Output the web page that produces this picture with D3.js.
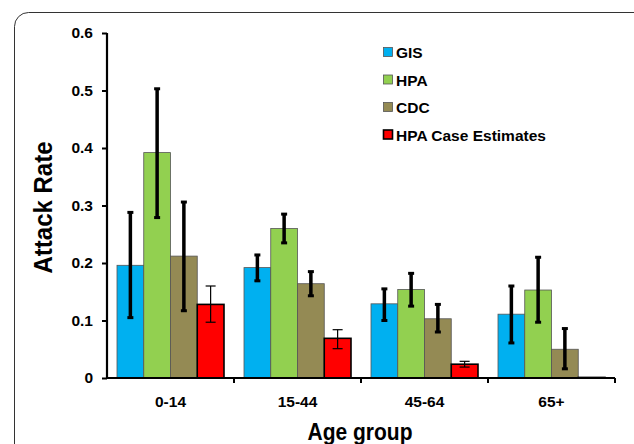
<!DOCTYPE html>
<html>
<head>
<meta charset="utf-8">
<script src="https://cdn.jsdelivr.net/npm/d3@7"></script>
<style>
  body { margin: 0; background: #fff; }
  text { font-family: "Liberation Sans", Arial, sans-serif; }
</style>
</head>
<body>
<div id="chart"></div>
<script>
// data
const ageGroups = ["0-14", "15-44", "45-64", "65+"];
const seriesNames = ["GIS", "HPA", "CDC", "HPA Case Estimates"];
const seriesColors = ["#00B0F0", "#92D050", "#948A54", "#FF0000"];
const gisValues = [0.196, 0.192, 0.129, 0.111];
const hpaValues = [0.392, 0.260, 0.154, 0.153];
const cdcValues = [0.212, 0.164, 0.103, 0.050];
const caseValues = [0.128, 0.069, 0.024, 0.001];
const gisLow = [0.105, 0.169, 0.100, 0.061];
const gisHigh = [0.288, 0.214, 0.155, 0.160];
const hpaLow = [0.279, 0.235, 0.125, 0.097];
const hpaHigh = [0.503, 0.285, 0.182, 0.210];
const cdcLow = [0.117, 0.143, 0.080, 0.016];
const cdcHigh = [0.306, 0.185, 0.128, 0.086];
const caseLow = [0.097, 0.051, 0.019, null];
const caseHigh = [0.160, 0.084, 0.029, null];
const yTicks = [0, 0.1, 0.2, 0.3, 0.4, 0.5, 0.6];

const values = [gisValues, hpaValues, cdcValues, caseValues];
const lows = [gisLow, hpaLow, cdcLow, caseLow];
const highs = [gisHigh, hpaHigh, cdcHigh, caseHigh];

const W = 634, H = 444;
const pLeft = 107, pRight = 615, pTop = 33, pBottom = 378;

const svg = d3.select("#chart").append("svg")
  .attr("width", W).attr("height", H);

// outer frame with rounded corner
svg.append("rect")
  .attr("x", 14.5).attr("y", 12.5)
  .attr("width", 680).attr("height", 500)
  .attr("rx", 14)
  .attr("fill", "none")
  .attr("stroke", "#333")
  .attr("stroke-width", 1);

const x = d3.scaleBand().domain(ageGroups).range([pLeft, pRight]).padding(0);
const xs = d3.scaleBand().domain(seriesNames)
  .range([10, x.bandwidth() - 10]).padding(0);
const y = d3.scaleLinear().domain([0, 0.6]).range([pBottom, pTop]);

// bars
const rows = [];
ageGroups.forEach((g, i) => {
  seriesNames.forEach((s, j) => {
    rows.push({ g: g, s: s, j: j, v: values[j][i], lo: lows[j][i], hi: highs[j][i] });
  });
});

svg.append("g").selectAll("rect")
  .data(rows).enter()
  .append("rect")
  .attr("x", d => x(d.g) + xs(d.s))
  .attr("y", d => y(d.v))
  .attr("width", xs.bandwidth())
  .attr("height", d => y(0) - y(d.v))
  .attr("fill", d => seriesColors[d.j])
  .attr("stroke", d => d.j === 3 ? "#000" : "#555")
  .attr("stroke-width", d => d.j === 3 ? 1.6 : 0.8);

// error bars
const errs = rows.filter(d => d.lo !== null);
const eg = svg.append("g").attr("stroke", "#000");
errs.forEach(d => {
  const cx = x(d.g) + xs(d.s) + xs.bandwidth() / 2;
  const thin = d.j === 3;
  const sw = thin ? 1.2 : 3.5;
  const cap = thin ? 5 : 3;
  eg.append("line")
    .attr("x1", cx).attr("x2", cx)
    .attr("y1", y(d.lo)).attr("y2", y(d.hi))
    .attr("stroke-width", sw);
  [d.lo, d.hi].forEach(v => {
    eg.append("line")
      .attr("x1", cx - cap).attr("x2", cx + cap)
      .attr("y1", y(v)).attr("y2", y(v))
      .attr("stroke-width", thin ? 1.2 : 3);
  });
});

// y axis
const yAxis = svg.append("g")
  .attr("transform", "translate(" + pLeft + ",0)")
  .call(d3.axisLeft(y).tickValues(yTicks).tickSize(5).tickPadding(9)
    .tickFormat(d => d === 0 ? "0" : d3.format(".1f")(d)));
yAxis.select(".domain").attr("stroke", "#000").attr("stroke-width", 2.2)
  .attr("d", "M0," + pTop + "V" + pBottom);
yAxis.selectAll(".tick line").attr("stroke-width", 2);
yAxis.selectAll("text")
  .attr("font-size", 15.5).attr("font-weight", "bold").attr("fill", "#000")
  .attr("font-family", "Liberation Sans, Arial, sans-serif");

// x axis
const xAxis = svg.append("g")
  .attr("transform", "translate(0," + pBottom + ")")
  .call(d3.axisBottom(x).tickSize(0).tickPadding(18));
xAxis.select(".domain").attr("stroke", "#000").attr("stroke-width", 2.2)
  .attr("d", "M" + pLeft + ",0H" + pRight);
xAxis.selectAll("text")
  .attr("font-size", 15.5).attr("font-weight", "bold").attr("fill", "#000")
  .attr("font-family", "Liberation Sans, Arial, sans-serif");
// category separators
svg.append("g").selectAll("line")
  .data(ageGroups.slice(1).concat(["end"])).enter()
  .append("line")
  .attr("x1", d => d === "end" ? pRight : x(d))
  .attr("x2", d => d === "end" ? pRight : x(d))
  .attr("y1", pBottom).attr("y2", pBottom + 5)
  .attr("stroke", "#000").attr("stroke-width", 2);

// axis titles
svg.append("text")
  .attr("transform", "translate(52," + ((pTop + pBottom) / 2 + 2) + ") rotate(-90) scale(1,1.08)")
  .attr("text-anchor", "middle")
  .attr("font-size", 24).attr("font-weight", "bold")
  .text("Attack Rate");

svg.append("text")
  .attr("transform", "translate(" + ((pLeft + pRight) / 2 - 1) + ",440) scale(1,1.1)")
  .attr("text-anchor", "middle")
  .attr("font-size", 21).attr("font-weight", "bold")
  .text("Age group");

// legend
const legend = svg.append("g").attr("transform", "translate(383,47)");
seriesNames.forEach((s, j) => {
  const row = legend.append("g").attr("transform", "translate(0," + (j * 27.5) + ")");
  row.append("rect")
    .attr("x", 0.5).attr("y", 0.5).attr("width", 9).attr("height", 9)
    .attr("fill", seriesColors[j])
    .attr("stroke", j === 3 ? "#000" : "#555")
    .attr("stroke-width", j === 3 ? 1.6 : 0.8);
  row.append("text")
    .attr("x", 13).attr("y", 11)
    .attr("font-size", 15.5).attr("font-weight", "bold")
    .text(s);
});
</script>
</body>
</html>
